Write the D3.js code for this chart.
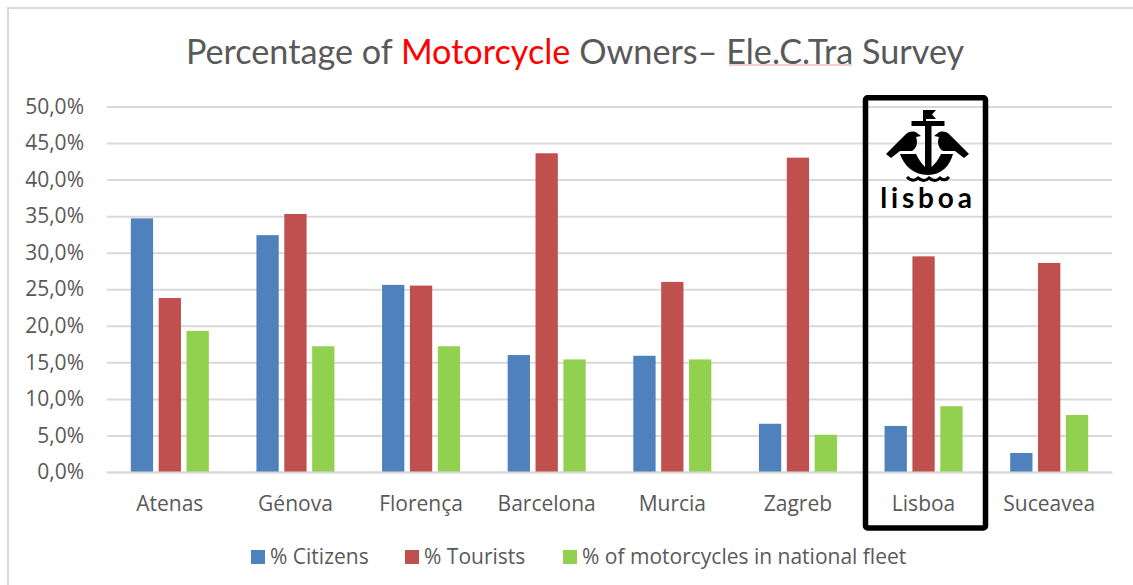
<!DOCTYPE html>
<html>
<head>
<meta charset="utf-8">
<script src="https://cdn.jsdelivr.net/npm/d3@7"></script>
<style>
body { margin: 0; background: #fff; }
svg { display: block; }
text { font-family: "Open Sans", sans-serif; fill: #595959; }
.title, .title text { font-family: Lato, sans-serif; }
</style>
</head>
<body>
<div id="chart"></div>
<script>
var cities = ["Atenas", "Génova", "Florença", "Barcelona", "Murcia", "Zagreb", "Lisboa", "Suceavea"];
var citizens = [34.7, 32.4, 25.6, 16.0, 15.9, 6.6, 6.3, 2.6];
var tourists = [23.8, 35.3, 25.5, 43.6, 26.0, 43.0, 29.5, 28.6];
var fleet = [19.3, 17.2, 17.2, 15.4, 15.4, 5.1, 9.0, 7.8];
var seriesNames = ["% Citizens", "% Tourists", "% of motorcycles in national fleet"];
var seriesColors = ["#4f81bd", "#c0504d", "#92d050"];
var yTicks = [0, 5, 10, 15, 20, 25, 30, 35, 40, 45, 50];

var width = 1133, height = 585;
var left = 107, right = 1112, top0 = 106.5, bottom = 472;
var groupWidth = 78;
var labelSize = 21;

var svg = d3.select("#chart").append("svg")
    .attr("width", width)
    .attr("height", height);

// picture frame, left and top edges only
svg.append("path")
    .attr("d", "M8,585V8H1133")
    .attr("fill", "none")
    .attr("stroke", "#d9d9d9")
    .attr("stroke-width", 2);

var x = d3.scaleBand().domain(cities).range([left, right]);
var x1 = d3.scaleBand().domain(seriesNames).range([0, groupWidth]).paddingInner(0.2);
var y = d3.scaleLinear().domain([0, 50]).range([bottom, top0]);

var fmt = function(d) { return d.toFixed(1).replace(".", ",") + "%"; };

// y axis with gridlines
var yAxis = svg.append("g")
    .attr("transform", "translate(" + left + ",0)")
    .call(d3.axisLeft(y).tickValues(yTicks).tickFormat(fmt).tickSize(0).tickPadding(23));
yAxis.select(".domain").remove();
yAxis.selectAll("line")
    .attr("x2", right - left)
    .attr("stroke", "#d9d9d9")
    .attr("stroke-width", 2);
yAxis.selectAll("text")
    .attr("font-size", labelSize)
    .style("font-family", '"Open Sans", sans-serif')
    .attr("fill", "#595959");

// bars
var series = [citizens, tourists, fleet];
series.forEach(function(values, i) {
  svg.append("g").selectAll("rect")
      .data(values)
      .enter().append("rect")
      .attr("x", function(d, j) {
        return x(cities[j]) + (x.bandwidth() - groupWidth) / 2 + x1(seriesNames[i]);
      })
      .attr("y", function(d) { return y(d); })
      .attr("width", x1.bandwidth())
      .attr("height", function(d) { return y(0) - y(d); })
      .attr("fill", seriesColors[i]);
});

// x axis
var xAxis = svg.append("g")
    .attr("transform", "translate(0," + bottom + ")")
    .call(d3.axisBottom(x).tickSize(0).tickPadding(24));
xAxis.select(".domain").attr("stroke", "#d9d9d9").attr("stroke-width", 2);
xAxis.selectAll("text")
    .attr("font-size", labelSize)
    .style("font-family", '"Open Sans", sans-serif')
    .attr("fill", "#595959");

// title
var title = svg.append("text")
    .attr("class", "title")
    .attr("x", 575)
    .attr("y", 64)
    .attr("text-anchor", "middle")
    .attr("font-size", 34.2);
title.append("tspan").text("Percentage of ");
title.append("tspan").style("fill", "#ff0000").text("Motorcycle");
title.append("tspan").text(" Owners– Ele.C.Tra Survey");

// spell check squiggle below Ele.C.Tra
svg.append("line")
    .attr("x1", 729).attr("x2", 852)
    .attr("y1", 65).attr("y2", 65)
    .attr("stroke", "#e8a0a0")
    .attr("stroke-width", 1.2);

// legend
var legendX = [251, 405, 563];
var legend = svg.append("g").selectAll("g")
    .data(seriesNames)
    .enter().append("g")
    .attr("transform", function(d, i) { return "translate(" + legendX[i] + ",550)"; });
legend.append("rect")
    .attr("width", 14)
    .attr("height", 14)
    .attr("fill", function(d, i) { return seriesColors[i]; });
legend.append("text")
    .attr("x", 19)
    .attr("y", 14)
    .attr("font-size", labelSize)
    .text(function(d) { return d; });

// box around Lisboa
svg.append("rect")
    .attr("x", 865.5)
    .attr("y", 97.75)
    .attr("width", 120)
    .attr("height", 430.25)
    .attr("rx", 2)
    .attr("fill", "none")
    .attr("stroke", "#000")
    .attr("stroke-width", 5.5);

// city logo
var logo = svg.append("g").attr("fill", "#000");
logo.append("path").attr("d", "M923,110H936L932,114.5L936,119H926V121H923Z");
logo.append("rect").attr("x", 911.5).attr("y", 121).attr("width", 33).attr("height", 5);
logo.append("rect").attr("x", 925).attr("y", 126).attr("width", 6.5).attr("height", 42);
logo.append("path").attr("d", "M900,154H916C919,160 922,164 925,167H931.5C935,164 938,160 941,154H953C950,166 941,175 928,175C914,175 904,166 900,154Z");
logo.append("path").attr("d", "M886,154L906,134C910,131 914,131 917,133L921,136L916,137C918,142 917,148 912,151H900L891,158Z");
logo.append("path").attr("d", "M969,154L949,134C945,131 941,131 938,133L934,136L939,137C937,142 938,148 943,151H955L964,158Z");
logo.append("path")
    .attr("d", "M907,177Q913,183 918,178Q924,183 929,178Q935,183 940,178Q945,182 949,177")
    .attr("fill", "none")
    .attr("stroke", "#000")
    .attr("stroke-width", 3);
logo.append("text")
    .attr("x", 928)
    .attr("y", 208)
    .attr("text-anchor", "middle")
    .attr("font-size", 28)
    .attr("font-weight", 700)
    .attr("letter-spacing", 3.8)
    .style("font-family", "Lato, sans-serif")
    .style("fill", "#000")
    .text("lisboa");
</script>
</body>
</html>
